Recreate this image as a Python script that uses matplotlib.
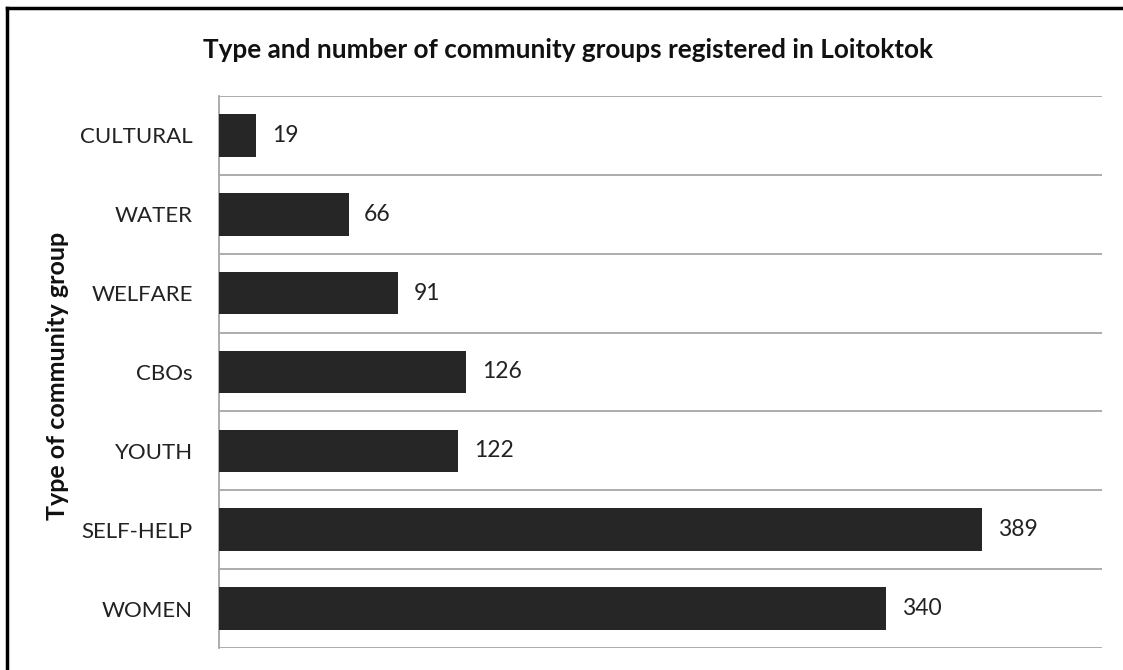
import matplotlib
matplotlib.use("Agg")
import matplotlib.pyplot as plt
from matplotlib.lines import Line2D

categories = ["WOMEN", "SELF-HELP", "YOUTH", "CBOs", "WELFARE", "WATER", "CULTURAL"]
values = [340, 389, 122, 126, 91, 66, 19]
title = "Type and number of community groups registered in Loitoktok"
ylabel = "Type of community group"

plt.rcParams['font.family'] = ['Lato', 'DejaVu Sans']

fig = plt.figure(figsize=(11.23, 6.70), dpi=100)
ax = fig.add_axes([219/1123, 1-648/670, (1102-219)/1123, (648-96)/670])

pos = list(range(len(categories)))
ax.barh(pos, values, height=0.54, color="#262626", zorder=3)
ax.set_xlim(0, 450)
ax.set_ylim(-0.5, len(categories) - 0.5)

for p, v in zip(pos, values):
    ax.text(v + 8, p, str(v), va="center", ha="left", fontsize=16.5, color="#222222")

ax.set_yticks(pos)
ax.set_yticklabels(categories, fontsize=16, color="#222222")
ax.tick_params(axis="y", length=0, pad=19)
ax.set_xticks([])
for b in [i - 0.5 for i in range(len(categories) + 1)]:
    ax.axhline(b, color="#a6a6a6", lw=1.3, zorder=1)

for s in ["top", "right", "bottom"]:
    ax.spines[s].set_visible(False)
ax.spines["left"].set_color("#a6a6a6")
ax.spines["left"].set_linewidth(1.3)

fig.text(568/1123, 1-50/670, title, ha="center", va="center",
         fontsize=18.8, fontweight="bold", color="#111111")
fig.text(58/1123, 1-376/670, ylabel, ha="center", va="center", rotation=90,
         fontsize=18, fontweight="bold", color="#111111")

# figure border (top and left visible)
fig.add_artist(Line2D([7/1123, 7/1123], [0, 1-8/670], transform=fig.transFigure,
                      color="black", lw=2.5))
fig.add_artist(Line2D([7/1123, 1], [1-8/670, 1-8/670], transform=fig.transFigure,
                      color="black", lw=2.5))

fig.savefig("out.png", dpi=100, facecolor="white")
